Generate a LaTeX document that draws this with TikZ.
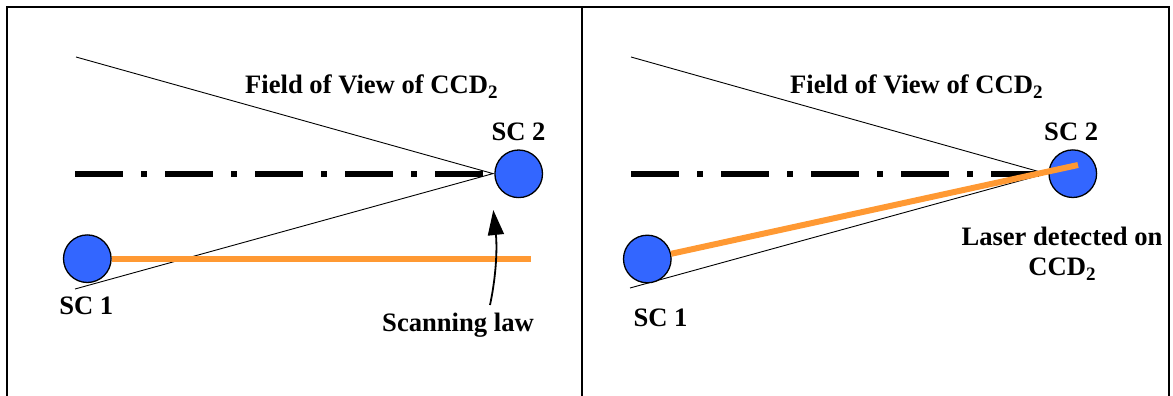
\documentclass[tikz,border=0pt]{standalone}
\usepackage{fontspec}
\setmainfont{Liberation Serif}
\usetikzlibrary{arrows.meta}
\definecolor{scblue}{RGB}{51,102,255}
\definecolor{laserorange}{RGB}{255,153,51}
\newcommand\mysub[1]{\raisebox{-5pt}{\fontsize{19}{19}\selectfont #1}}
\begin{document}
\begin{tikzpicture}[x=1pt,y=-1pt,
  sat/.style={circle,draw=black,line width=1.3pt,fill=scblue,minimum size=47.6pt,inner sep=0pt},
  lbl/.style={font=\fontsize{26.6}{30}\selectfont\bfseries,inner sep=0pt},
  fov/.style={line width=0.9pt,draw=black},
  axis/.style={line width=6pt,draw=black,dash pattern=on 48pt off 18.3pt on 5.7pt off 18pt},
  laser/.style={line width=6pt,draw=laserorange},
  frame/.style={line width=2.2pt,draw=black}]
\useasboundingbox (0,0) rectangle (1173,396);
% frame
\draw[frame] (7,396) -- (7,7.2) -- (1169.3,7.2) -- (1169.3,396);
\draw[frame] (581.8,7.2) -- (581.8,396);

% ---------- left panel ----------
\coordinate (apexL) at (493,173.6);
\coordinate (fovTopL) at (76,57);
\coordinate (fovBotL) at (75,289);
\coordinate (axisStartL) at (75,173.7);
\coordinate (axisEndL) at (483,173.7);
\coordinate (laserEndL) at (531,258.7);
\coordinate (arrowTail) at (490,305);
\coordinate (arrowTip) at (493.3,210);
\draw[axis] (axisStartL) -- (axisEndL);
\draw[fov] (fovTopL) -- (apexL) -- (fovBotL);
\node[sat] (sc2L) at (518.7,173.8) {};
\node[sat] (sc1L) at (87.3,258.7) {};
\draw[laser] (sc1L.east) -- (laserEndL);
\draw[line width=1.8pt,-{Triangle[length=25pt,width=16pt]}] (arrowTail) .. controls (497,272) and (497,245) .. (arrowTip);
\node[lbl,anchor=base west] (fovtxtL) at (245,93.3) {Field of View of CCD\mysub{2}};
\node[lbl,anchor=base] (sc2txtL) at (518.5,140) {SC 2};
\node[lbl,anchor=base] (sc1txtL) at (86.3,314.3) {SC 1};
\node[lbl,anchor=base] (scantxt) at (458,331.7) {Scanning law};

% ---------- right panel ----------
\coordinate (apexR) at (1046,173.6);
\coordinate (fovTopR) at (631,57);
\coordinate (fovBotR) at (630,288);
\coordinate (axisStartR) at (631,173.7);
\coordinate (axisEndR) at (1039,173.7);
\coordinate (laserEndR) at (1078,165);
\draw[axis] (axisStartR) -- (axisEndR);
\draw[fov] (fovTopR) -- (apexR) -- (fovBotR);
\node[sat] (sc2R) at (1072.8,173.7) {};
\node[sat] (sc1R) at (647.3,259) {};
\draw[laser] (sc1R) -- (laserEndR);
\node[lbl,anchor=base west] (fovtxtR) at (790,93.3) {Field of View of CCD\mysub{2}};
\node[lbl,anchor=base] (sc2txtR) at (1071.2,140.5) {SC 2};
\node[lbl,anchor=base] (sc1txtR) at (660.5,326) {SC 1};
\node[lbl,anchor=north,align=center] (lasertxt) at (1062,226.5) {Laser detected on\\CCD\mysub{2}};
\end{tikzpicture}
\end{document}
